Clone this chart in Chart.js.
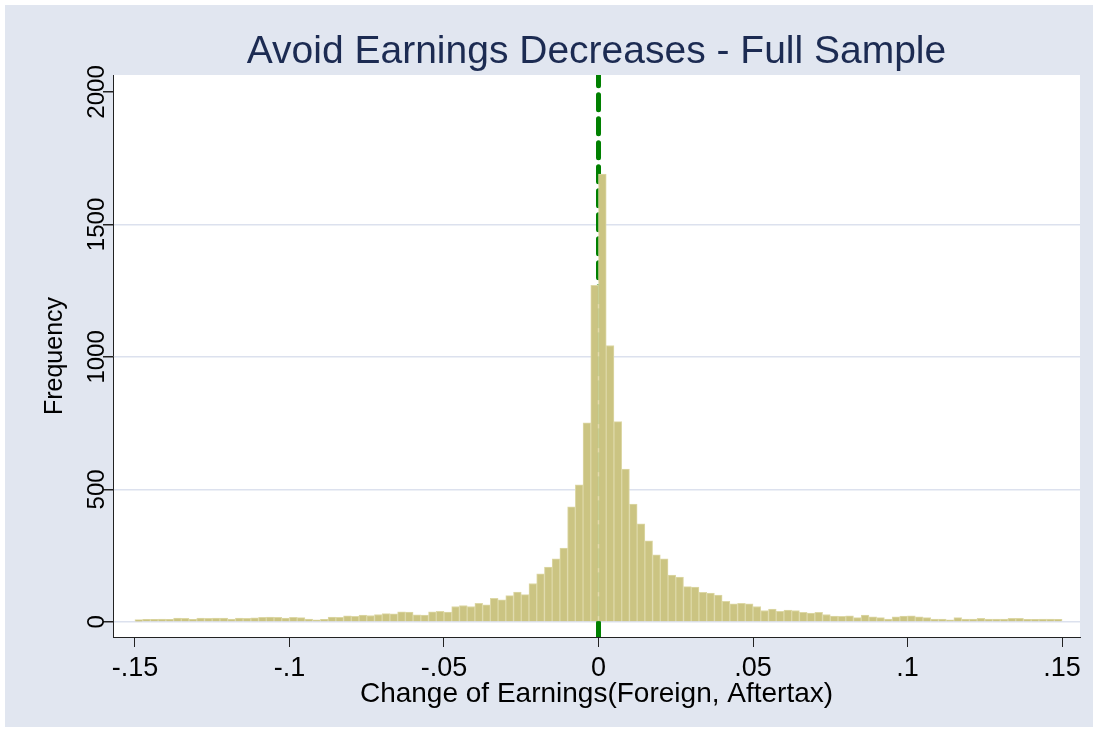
<!DOCTYPE html>
<html>
<head>
<meta charset="utf-8">
<script src="https://cdn.jsdelivr.net/npm/chart.js@4.4.1/dist/chart.umd.min.js"></script>
<style>
  html, body { margin: 0; padding: 0; background: #fff; }
  #wrap { position: absolute; left: 5px; top: 5px; width: 1088px; height: 722px; background: #e1e6f0; }
</style>
</head>
<body>
<div id="wrap"><canvas id="chart"></canvas></div>
<script>
// histogram of earnings changes, bins of width .0025 from -.15 to .15
const binStart = -0.15;
const binWidth = 0.0025;

// frequencies for bins left of zero (-.15 ... -.0025)
const freqNeg = [
  9, 10, 10, 11, 10, 14, 13, 10, 14, 13,
  14, 14, 11, 14, 13, 15, 17, 18, 17, 14,
  17, 16, 11, 8, 10, 18, 17, 23, 21, 26,
  24, 28, 31, 30, 38, 37, 27, 26, 38, 40,
  37, 58, 62, 58, 70, 64, 89, 83, 99, 113,
  103, 145, 181, 207, 238, 279, 434, 517, 751, 1270
];
// frequencies for bins right of zero (0 ... .1475)
const freqPos = [
  1690, 1043, 756, 577, 445, 370, 306, 253, 238, 177,
  169, 133, 131, 112, 109, 101, 78, 68, 70, 68,
  58, 43, 48, 40, 45, 43, 36, 33, 36, 28,
  22, 21, 23, 16, 26, 19, 16, 11, 19, 22,
  23, 19, 16, 11, 11, 8, 16, 11, 11, 13,
  11, 11, 11, 13, 13, 10, 10, 11, 11, 10
];

const xTicks = [-0.15, -0.1, -0.05, 0, 0.05, 0.1, 0.15];
const xTickLabels = ['-.15', '-.1', '-.05', '0', '.05', '.1', '.15'];
const yTicks = [0, 500, 1000, 1500, 2000];
const yTickLabels = ['0', '500', '1000', '1500', '2000'];
const refLine = 0;

const freq = freqNeg.concat(freqPos);
const bars = freq.map((f, i) => ({ x: binStart + (i + 0.5) * binWidth, y: f }));

const FONT = '"Liberation Sans", Arial, sans-serif';

const decor = {
  id: 'decor',
  beforeDraw(chart) {
    const { ctx, chartArea: a } = chart;
    ctx.save();
    ctx.fillStyle = '#ffffff';
    ctx.fillRect(a.left, a.top, a.right - a.left, a.bottom - a.top);
    ctx.restore();
  },
  afterDraw(chart) {
    const { ctx, chartArea: a } = chart;
    const ys = chart.scales.y;
    const cx = (a.left + a.right) / 2;
    ctx.save();
    // title
    ctx.fillStyle = '#1c2b52';
    ctx.font = '39px ' + FONT;
    ctx.textAlign = 'center';
    ctx.textBaseline = 'middle';
    ctx.fillText('Avoid Earnings Decreases - Full Sample', cx, 47);
    // x title
    ctx.fillStyle = '#000';
    ctx.font = '28px ' + FONT;
    ctx.fillText('Change of Earnings(Foreign, Aftertax)', cx, 689);
    // y tick labels, rotated
    ctx.font = '24px ' + FONT;
    yTicks.forEach((v, i) => {
      ctx.save();
      ctx.translate(92, ys.getPixelForValue(v));
      ctx.rotate(-Math.PI / 2);
      ctx.fillText(yTickLabels[i], 0, 0);
      ctx.restore();
    });
    // y title
    ctx.font = '25px ' + FONT;
    ctx.translate(50, (a.top + a.bottom) / 2);
    ctx.rotate(-Math.PI / 2);
    ctx.fillText('Frequency', 0, 0);
    ctx.restore();
  }
};

new Chart(document.getElementById('chart'), {
  type: 'bar',
  data: {
    datasets: [
      {
        type: 'bar',
        data: bars,
        backgroundColor: '#cbc482',
        borderColor: '#ddd8a6',
        borderWidth: 1,
        barPercentage: 1,
        categoryPercentage: 1,
        order: 1
      },
      {
        type: 'line',
        data: [{ x: refLine, y: -60 }, { x: refLine, y: 2070 }],
        borderColor: '#008000',
        borderWidth: 5,
        borderDash: [15, 9],
        borderCapStyle: 'round',
        pointRadius: 0,
        order: 2
      }
    ]
  },
  options: {
    responsive: true,
    maintainAspectRatio: false,
    devicePixelRatio: 1,
    animation: false,
    layout: { padding: { top: 70, right: 13, left: 0, bottom: 0 } },
    plugins: { legend: { display: false }, tooltip: { enabled: false } },
    scales: {
      x: {
        type: 'linear',
        min: -0.1571,
        max: 0.1558,
        offset: false,
        afterBuildTicks: s => { s.ticks = xTicks.map(v => ({ value: v })); },
        afterFit: s => { s.height = 90; },
        ticks: {
          callback: (v, i) => xTickLabels[i],
          color: '#000',
          font: { family: FONT, size: 27 },
          padding: 5,
          maxRotation: 0
        },
        grid: { offset: false, drawOnChartArea: false, tickLength: 10, tickColor: '#222' },
        border: { color: '#222', width: 1 }
      },
      y: {
        type: 'linear',
        min: -57,
        max: 2064,
        afterBuildTicks: s => { s.ticks = yTicks.map(v => ({ value: v })); },
        afterFit: s => { s.width = 108; },
        ticks: { display: false },
        grid: {
          color: c => (c.tick && c.tick.value < 2000) ? '#dce1ee' : 'rgba(0,0,0,0)',
          lineWidth: 1.5,
          tickLength: 10,
          tickColor: '#222'
        },
        border: { color: '#222', width: 1 }
      }
    }
  },
  plugins: [decor]
});
</script>
</body>
</html>
